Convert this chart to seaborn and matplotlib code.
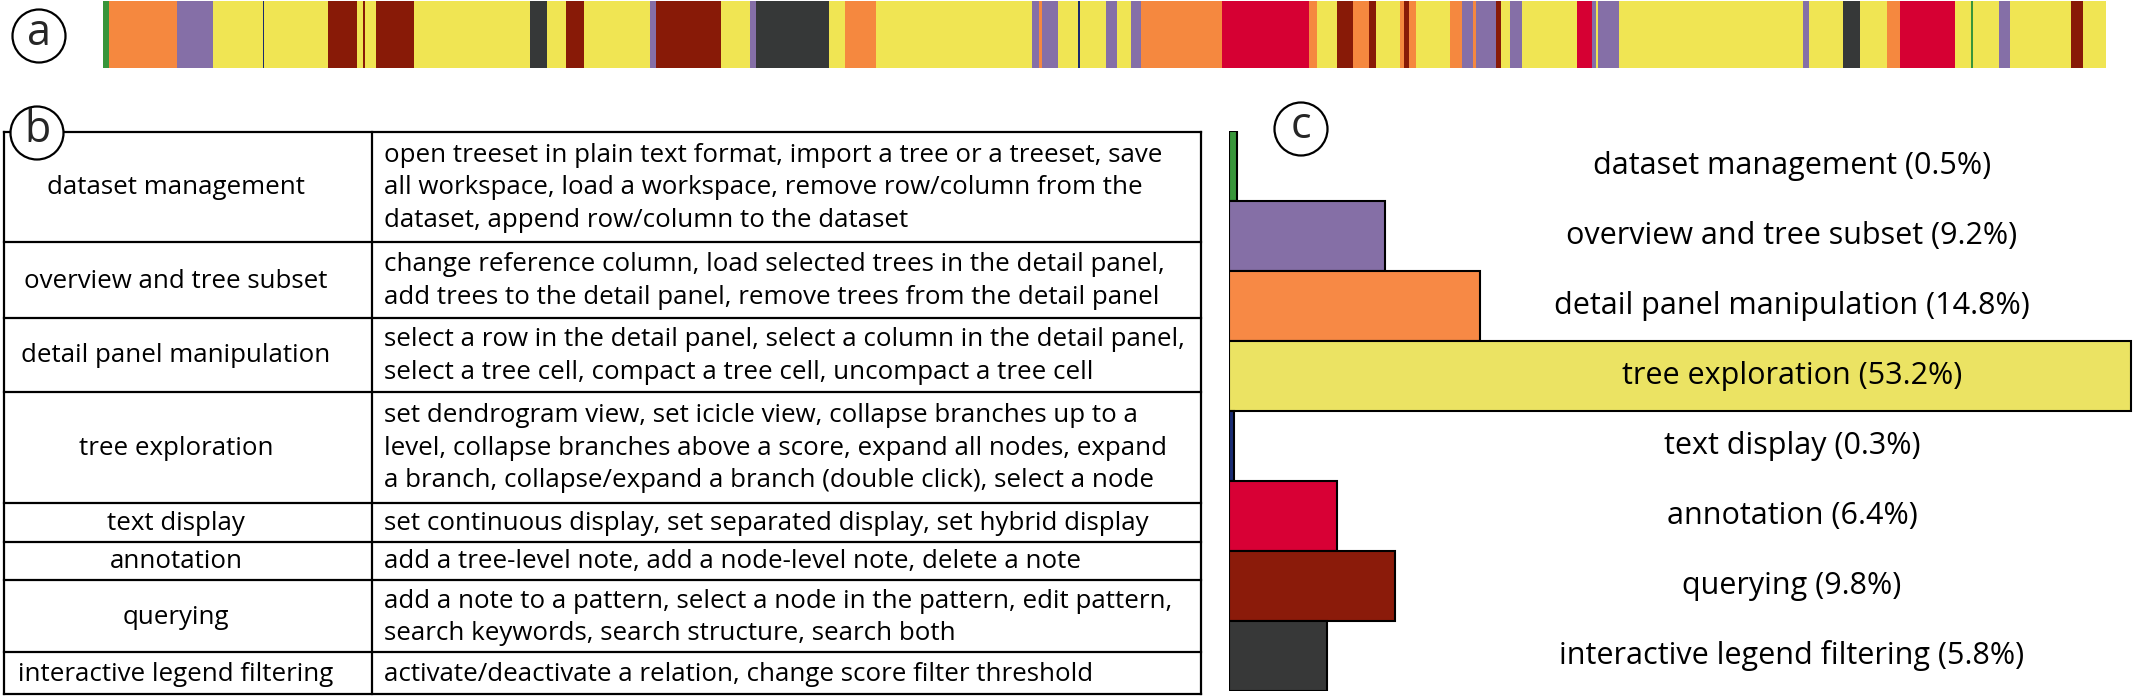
import numpy as np
import pandas as pd
import matplotlib
matplotlib.use("Agg")
import matplotlib.pyplot as plt
from matplotlib.patches import Circle
import seaborn as sns

# --- data -----------------------------------------------------------------
categories = ["dataset management", "overview and tree subset", "detail panel manipulation",
              "tree exploration", "text display", "annotation", "querying",
              "interactive legend filtering"]
share_pct = [0.5, 9.2, 14.8, 53.2, 0.3, 6.4, 9.8, 5.8]
cat_colors = ["#38963a", "#856fa6", "#f78945", "#ebe363", "#1b2d75", "#d80035", "#8b1b0a", "#373838"]
strip_colors = ["#38953a", "#856fa7", "#f5883f", "#f0e553", "#1a2a6e", "#d60033", "#881a07", "#363838"]

actions = [
    "open treeset in plain text format, import a tree or a treeset, save\n"
    "all workspace, load a workspace, remove row/column from the\n"
    "dataset, append row/column to the dataset",
    "change reference column, load selected trees in the detail panel,\n"
    "add trees to the detail panel, remove trees from the detail panel",
    "select a row in the detail panel, select a column in the detail panel,\n"
    "select a tree cell, compact a tree cell, uncompact a tree cell",
    "set dendrogram view, set icicle view, collapse branches up to a\n"
    "level, collapse branches above a score, expand all nodes, expand\n"
    "a branch, collapse/expand a branch (double click), select a node",
    "set continuous display, set separated display, set hybrid display",
    "add a tree-level note, add a node-level note, delete a note",
    "add a note to a pattern, select a node in the pattern, edit pattern,\n"
    "search keywords, search structure, search both",
    "activate/deactivate a relation, change score filter threshold",
]

# session timeline: category index of each segment and where it starts (timeline units)
seg_cat = [0, 2, 1, 3, 4, 3, 6, 3, 6, 3, 6, 3, 7, 3, 6, 3, 1, 6, 3, 1, 7, 3, 2, 3,
           1, 2, 1, 3, 4, 3, 1, 3, 1, 2, 5, 2, 3, 6, 2, 6, 3, 2, 6, 2, 3, 2, 1, 2,
           1, 6, 3, 1, 3, 5, 1, 3, 1, 3, 1, 3, 7, 3, 2, 5, 3, 0, 3, 1, 3, 6, 3]
seg_start = [0, 6, 74, 110, 160, 161, 225, 254, 260, 262, 273, 311, 427, 444, 463, 481,
             547, 553, 618, 647, 653, 726, 742, 773, 929, 936, 939, 955, 975, 977, 1003,
             1014, 1028, 1038, 1119, 1206, 1214, 1234, 1250, 1266, 1273, 1297, 1301, 1306,
             1313, 1347, 1359, 1370, 1373, 1393, 1398, 1407, 1419, 1474, 1489, 1493, 1495,
             1516, 1700, 1706, 1740, 1757, 1784, 1797, 1852, 1868, 1870, 1896, 1907, 1968,
             1980]
seg_end = 2003

sns.set_theme(style="white")
plt.rcParams["font.family"] = ["Open Sans", "DejaVu Sans"]

W, H = 2137, 700
fig = plt.figure(figsize=(W / 100, H / 100), dpi=100)

# overlay in pixel units for table, frame and panel letters
ov = fig.add_axes([0, 0, 1, 1])
ov.set_xlim(0, W)
ov.set_ylim(H, 0)
ov.axis("off")

# --- (a) timeline strip ---------------------------------------------------
ax_a = fig.add_axes([103 / W, 1 - 68 / H, 2003 / W, 67 / H])
lefts = np.array(seg_start, dtype=float)
widths = np.diff(np.append(lefts, seg_end))
ax_a.barh(0, widths, left=lefts, height=1.0,
          color=[strip_colors[c] for c in seg_cat], linewidth=0)
ax_a.set_xlim(0, seg_end)
ax_a.set_ylim(-0.5, 0.5)
ax_a.axis("off")

# --- (b) table ------------------------------------------------------------
row_y = [132, 241.7, 318.3, 391.7, 502.7, 541.7, 580, 652.3, 694.3]
x0, xm, x1 = 4, 372, 1201
for y in row_y:
    ov.plot([x0, x1], [y, y], color="black", lw=1.6, solid_capstyle="projecting")
for x in (x0, xm, x1):
    ov.plot([x, x], [row_y[0], row_y[-1]], color="black", lw=1.6, solid_capstyle="projecting")
for i, (cat, act) in enumerate(zip(categories, actions)):
    yc = (row_y[i] + row_y[i + 1]) / 2
    ov.text(176, yc + 1, cat, ha="center", va="center", fontsize=18.6, color="black")
    ov.text(384, yc + 1, act, ha="left", va="center", fontsize=18.6, color="black",
            linespacing=1.38)

# --- (c) bar chart --------------------------------------------------------
px_per_pct = 16.95
ax_c = fig.add_axes([1229 / W, 1 - 690.7 / H, (W - 1229) / W, 560 / H])
df = pd.DataFrame({"category": categories, "share": share_pct})
sns.barplot(data=df, x="share", y="category", hue="category", palette=cat_colors,
            order=categories, hue_order=categories, orient="h", width=1.0,
            saturation=1, edgecolor="black", linewidth=1.5, legend=False, ax=ax_c)
ax_c.set_xlim(0, (W - 1229) / px_per_pct)
ax_c.set_ylim(7.5, -0.5)
ax_c.axis("off")
for i, (cat, p) in enumerate(zip(categories, share_pct)):
    ax_c.text((1792 - 1229) / (W - 1229), i, f"{cat} ({p}%)",
              transform=ax_c.get_yaxis_transform(), ha="center", va="center",
              fontsize=22, color="black")

# --- panel letters ----------------------------------------------------------
for letter, (cx, cy) in zip("abc", [(39, 36), (37, 133), (1301, 129)]):
    ov.add_patch(Circle((cx, cy), 26.5, facecolor="white", edgecolor="black",
                        lw=1.6, zorder=5))
    ov.text(cx, cy - 2, letter, ha="center", va="center", fontsize=31, zorder=6)

fig.savefig("out.png", dpi=100)
